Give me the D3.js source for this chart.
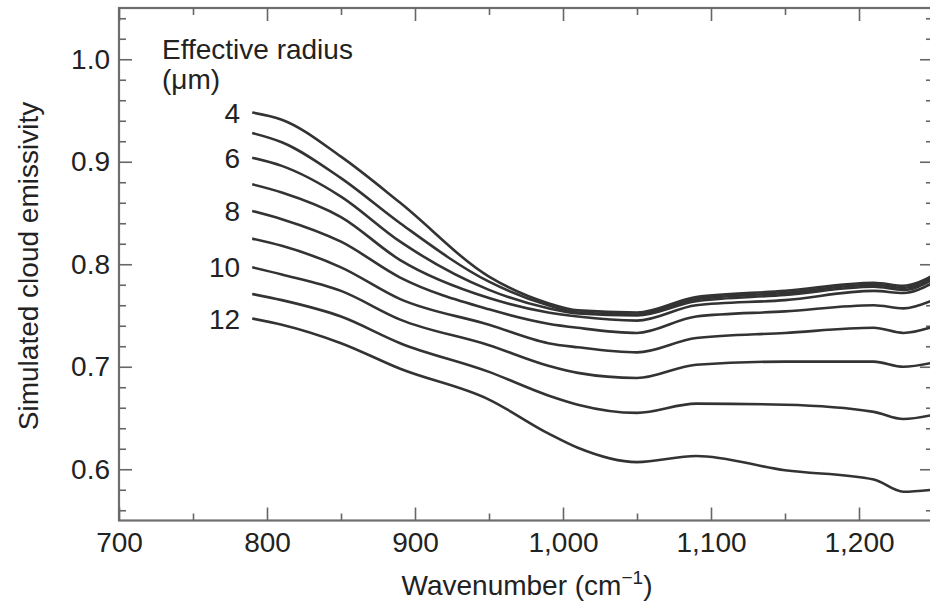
<!DOCTYPE html>
<html>
<head>
<meta charset="utf-8">
<script src="https://cdn.jsdelivr.net/npm/d3@7.9.0/dist/d3.min.js"></script>
<style>
  body { margin: 0; background: #fff; }
  svg { display: block; font-family: "Liberation Sans", Arial, Helvetica, sans-serif; }
  .axis text { font-size: 28px; fill: #222; }
  .axis line { stroke: #666; stroke-width: 1.6; }
  .axis path { display: none; }
</style>
</head>
<body>
<svg id="chart" width="930" height="604"></svg>
<script>
// Wavenumbers sampled along each curve (cm^-1)
const wavenumbers = [790, 810, 850, 890, 950, 990, 1010, 1050, 1090, 1150, 1210, 1230, 1250];

// Effective radius of each curve (um), top to bottom
const radii = [4, 5, 6, 7, 8, 9, 10, 11, 12];
const labelledRadii = [4, 6, 8, 10, 12];

// Simulated emissivity, one array per radius
const emis4  = [0.948, 0.941, 0.905, 0.860, 0.788, 0.762, 0.755, 0.753, 0.768, 0.774, 0.782, 0.779, 0.789];
const emis5  = [0.928, 0.919, 0.884, 0.840, 0.783, 0.760, 0.753, 0.751, 0.766, 0.772, 0.780, 0.777, 0.787];
const emis6  = [0.904, 0.896, 0.866, 0.822, 0.775, 0.757, 0.752, 0.750, 0.764, 0.770, 0.778, 0.775, 0.785];
const emis7  = [0.878, 0.870, 0.846, 0.804, 0.767, 0.753, 0.749, 0.745, 0.760, 0.765, 0.774, 0.772, 0.782];
const emis8  = [0.852, 0.844, 0.822, 0.787, 0.756, 0.742, 0.738, 0.733, 0.749, 0.754, 0.760, 0.757, 0.765];
const emis9  = [0.825, 0.818, 0.797, 0.766, 0.741, 0.723, 0.719, 0.714, 0.728, 0.733, 0.738, 0.733, 0.739];
const emis10 = [0.797, 0.790, 0.774, 0.746, 0.721, 0.701, 0.694, 0.689, 0.702, 0.705, 0.705, 0.700, 0.704];
const emis11 = [0.771, 0.765, 0.749, 0.723, 0.695, 0.672, 0.663, 0.655, 0.664, 0.663, 0.656, 0.649, 0.653];
const emis12 = [0.747, 0.741, 0.723, 0.698, 0.668, 0.635, 0.621, 0.607, 0.613, 0.599, 0.590, 0.578, 0.580];
const series = [emis4, emis5, emis6, emis7, emis8, emis9, emis10, emis11, emis12];

// Axis ticks
const xTicks = [700, 800, 900, 1000, 1100, 1200];
const xMinorTicks = [750, 850, 950, 1050, 1150, 1250];
const yTicks = [0.6, 0.7, 0.8, 0.9, 1.0];

const svg = d3.select("#chart");

// Plot frame (right edge falls just outside the picture)
const plotLeft = 119, plotRight = 933, plotTop = 8, plotBottom = 520.5;

const x = d3.scaleLinear().domain([700, 1250]).range([plotLeft, plotRight]);
const y = d3.scaleLinear().domain([0.55, 1.05]).range([plotBottom, plotTop]);

// Minor y ticks every 0.02, skipping the labelled ones
const yMinorTicks = d3.range(0.56, 1.05, 0.02)
  .map((d) => +d.toFixed(2))
  .filter((d) => !yTicks.some((t) => Math.abs(t - d) < 1e-6));

// Frame
svg.append("rect")
  .attr("x", plotLeft)
  .attr("y", plotTop)
  .attr("width", plotRight - plotLeft)
  .attr("height", plotBottom - plotTop)
  .attr("fill", "none")
  .attr("stroke", "#6e6e6e")
  .attr("stroke-width", 2.2);

// Bottom axis (ticks point inward)
svg.append("g")
  .attr("class", "axis")
  .attr("transform", `translate(0,${plotBottom})`)
  .call(d3.axisBottom(x).tickValues(xTicks).tickSize(-13).tickPadding(12).tickFormat(d3.format(",")));
svg.append("g")
  .attr("class", "axis")
  .attr("transform", `translate(0,${plotBottom})`)
  .call(d3.axisBottom(x).tickValues(xMinorTicks).tickSize(-7).tickFormat(""));

// Top axis
svg.append("g")
  .attr("class", "axis")
  .attr("transform", `translate(0,${plotTop})`)
  .call(d3.axisTop(x).tickValues(xTicks).tickSize(-13).tickFormat(""));
svg.append("g")
  .attr("class", "axis")
  .attr("transform", `translate(0,${plotTop})`)
  .call(d3.axisTop(x).tickValues(xMinorTicks).tickSize(-7).tickFormat(""));

// Left axis
svg.append("g")
  .attr("class", "axis")
  .attr("transform", `translate(${plotLeft},0)`)
  .call(d3.axisLeft(y).tickValues(yTicks).tickSize(-13).tickPadding(9).tickFormat(d3.format(".1f")));
svg.append("g")
  .attr("class", "axis")
  .attr("transform", `translate(${plotLeft},0)`)
  .call(d3.axisLeft(y).tickValues(yMinorTicks).tickSize(-7).tickFormat(""));

// Right axis
svg.append("g")
  .attr("class", "axis")
  .attr("transform", `translate(${plotRight},0)`)
  .call(d3.axisRight(y).tickValues(yTicks).tickSize(-13).tickFormat(""));
svg.append("g")
  .attr("class", "axis")
  .attr("transform", `translate(${plotRight},0)`)
  .call(d3.axisRight(y).tickValues(yMinorTicks).tickSize(-7).tickFormat(""));

// Curves
const line = d3.line()
  .x((d, i) => x(wavenumbers[i]))
  .y((d) => y(d))
  .curve(d3.curveMonotoneX);

svg.append("g")
  .selectAll("path")
  .data(series)
  .join("path")
  .attr("d", line)
  .attr("fill", "none")
  .attr("stroke", "#333")
  .attr("stroke-width", 2.6)
  .attr("stroke-linejoin", "round");

// Curve labels at the left end of every other curve
svg.append("g")
  .selectAll("text")
  .data(labelledRadii)
  .join("text")
  .attr("x", x(wavenumbers[0]) - 12)
  .attr("y", (r) => y(series[radii.indexOf(r)][0]))
  .attr("dy", "0.36em")
  .attr("text-anchor", "end")
  .attr("font-size", 28)
  .attr("fill", "#222")
  .text((r) => r);

// Legend title
const legend = svg.append("text")
  .attr("x", 162)
  .attr("y", 59)
  .attr("font-size", 28)
  .attr("fill", "#222");
legend.append("tspan").text("Effective radius");
legend.append("tspan").attr("x", 162).attr("dy", 30).text("(\u03bcm)");

// Axis titles
const xTitle = svg.append("text")
  .attr("x", 527)
  .attr("y", 595)
  .attr("text-anchor", "middle")
  .attr("font-size", 28)
  .attr("fill", "#222");
xTitle.append("tspan").text("Wavenumber (cm");
xTitle.append("tspan").attr("dy", -11).attr("font-size", 19).text("\u22121");
xTitle.append("tspan").attr("dy", 11).text(")");

svg.append("text")
  .attr("transform", "translate(38,266) rotate(-90)")
  .attr("text-anchor", "middle")
  .attr("font-size", 28)
  .attr("fill", "#222")
  .text("Simulated cloud emissivity");
</script>
</body>
</html>
